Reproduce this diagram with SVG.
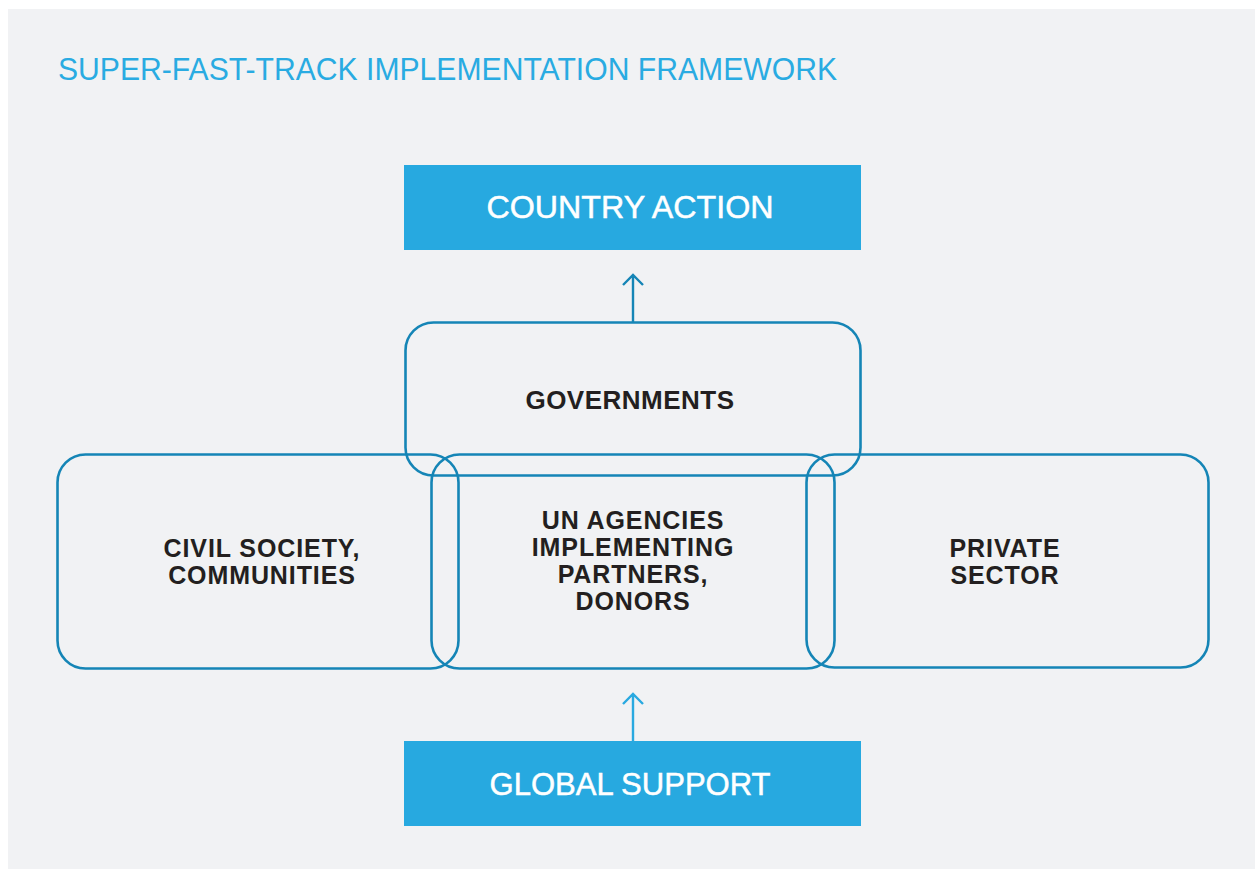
<svg xmlns="http://www.w3.org/2000/svg" width="1255" height="869" viewBox="0 0 1255 869">
<style>
.panel{fill:#f1f2f4}
.title{font-family:"Liberation Sans",Arial,sans-serif;font-size:31px;fill:#29abe2}
.solid{fill:#27a9e0}
.solidtxt{font-family:"Liberation Sans",Arial,sans-serif;font-size:32px;fill:#ffffff;text-anchor:middle;stroke:#ffffff;stroke-width:0.5}
.ring{fill:none;stroke:#1585b6;stroke-width:2.6}
.lbl{font-family:"Liberation Sans",Arial,sans-serif;font-weight:bold;font-size:25px;letter-spacing:0.9px;fill:#231f20;text-anchor:middle}
.conn{fill:none;stroke-width:2.4;stroke-linecap:butt}
</style>
<rect class="panel" x="8" y="9" width="1247" height="860"/>
<text class="title" x="58" y="80" textLength="779" lengthAdjust="spacingAndGlyphs">SUPER-FAST-TRACK IMPLEMENTATION FRAMEWORK</text>
<g id="country-action">
<rect class="solid" x="404" y="165" width="457" height="85"/>
<text class="solidtxt" x="630" y="218" textLength="287" lengthAdjust="spacingAndGlyphs">COUNTRY ACTION</text>
</g>
<g id="governments">
<rect class="ring" x="405.5" y="322.5" width="455" height="153" rx="28"/>
<text class="lbl" x="630" y="409" style="font-size:26px;letter-spacing:0.5px">GOVERNMENTS</text>
</g>
<g id="civil-society">
<rect class="ring" x="57.5" y="454.5" width="401" height="214" rx="28"/>
<text class="lbl" x="262" y="557">CIVIL SOCIETY,</text>
<text class="lbl" x="262" y="584">COMMUNITIES</text>
</g>
<g id="un-agencies">
<rect class="ring" x="431.5" y="454.5" width="403" height="214" rx="28"/>
<text class="lbl" x="633" y="529">UN AGENCIES</text>
<text class="lbl" x="633" y="556">IMPLEMENTING</text>
<text class="lbl" x="633" y="583">PARTNERS,</text>
<text class="lbl" x="633" y="610">DONORS</text>
</g>
<g id="private-sector">
<rect class="ring" x="806.5" y="454.5" width="402" height="213" rx="28"/>
<text class="lbl" x="1005" y="557">PRIVATE</text>
<text class="lbl" x="1005" y="584">SECTOR</text>
</g>
<g id="global-support">
<rect class="solid" x="404" y="741" width="457" height="85"/>
<text class="solidtxt" x="630" y="795" textLength="281" lengthAdjust="spacingAndGlyphs">GLOBAL SUPPORT</text>
</g>
<g id="connectors">
<path class="conn" stroke="#1585b6" d="M633 322 V275 M623 285 L633 275 L643 285"/>
<path class="conn" stroke="#29a9e0" d="M633 741 V694 M623 704 L633 694 L643 704"/>
</g>
</svg>
